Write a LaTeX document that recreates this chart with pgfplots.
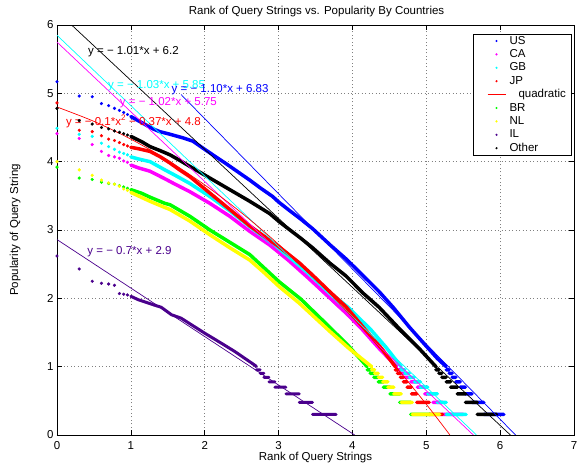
\documentclass[border=0pt]{standalone}
\usepackage{pgfplots}
\pgfplotsset{compat=1.18}
\usepackage{fontspec}
\setmainfont{Liberation Sans}
\definecolor{mblue}{rgb}{0,0,1}
\definecolor{mmag}{rgb}{1,0,1}
\definecolor{mcyan}{rgb}{0,1,1}
\definecolor{mred}{rgb}{1,0,0}
\definecolor{mgreen}{rgb}{0,1,0}
\definecolor{myellow}{rgb}{1,1,0}
\definecolor{mpurple}{rgb}{0.29,0,0.55}
\newcommand{\fs}{\fontsize{11.5bp}{13bp}\selectfont}
\pgfplotsset{
 head/.style={only marks, mark=*, mark size=1.4bp, mark options={solid}, forget plot},
 body/.style={no marks, line width=3.5bp, line cap=round, line join=round, unbounded coords=jump, forget plot},
 fit/.style={no marks, line width=0.7bp, forget plot},
 leglineimg/.style={legend image code/.code={\path[draw=none,fill=none] (-12bp,0) rectangle (19bp,0.1bp);
   \draw[##1] (-1bp,0bp) -- (17bp,0bp);}},
 legdotimg/.style={legend image code/.code={\path[draw=none,fill=none] (-12bp,0) rectangle (19bp,0.1bp);
   \fill[##1, draw=none] (8bp,0bp) circle (1.2bp);}},
}
\begin{document}
\begin{tikzpicture}
\useasboundingbox (-57bp,-30bp) rectangle (520bp,435bp);
\begin{axis}[at={(0,0)}, anchor=south west, scale only axis, width=517bp, height=410bp,
 xmin=0, xmax=7, ymin=0, ymax=6,
 xtick={0,1,2,3,4,5,6,7}, ytick={0,1,2,3,4,5,6},
 tick label style={font=\fs}, /pgf/number format/assume math mode=true,
 xticklabel style={yshift=-3bp},
 tick align=inside, major tick length=5bp, tick style={black, line width=0.6bp},
 axis line style={line width=0.8bp},
 grid=major, grid style={dash pattern=on 1bp off 2.5bp, black!50, line width=0.6bp},
 title={Rank of Query Strings vs. Popularity By Countries},
 title style={font=\fs, at={(0.502,1.018)}, anchor=center},
 xlabel={Rank of Query Strings}, xlabel style={font=\fs, at={(0.5,-0.055)}, anchor=center},
 ylabel={Popularity of Query String}, ylabel style={font=\fs, at={(-0.081,0.5)}, anchor=center, rotate=0},
 legend style={at={(0.9942,0.979)}, anchor=north east, draw=black, fill=white, font=\fs,
   inner ysep=0.5bp, nodes={inner ysep=1.2bp, text height=8.5bp, text depth=2.5bp}},
 legend cell align=left,
]
% US
\addplot[head, mblue] coordinates {(0,5.17)(0.301,4.96)(0.477,4.95)(0.602,4.85)(0.699,4.82)(0.778,4.78)(0.845,4.75)(0.903,4.72)(0.954,4.69)};
\addplot[body, mblue] coordinates {(1.0,4.66)(1.1,4.60)(1.2,4.54)(1.3,4.48)(1.39,4.44)(1.5,4.41)(1.6,4.38)(1.7,4.35)(1.84,4.30)(2.0,4.18)(2.11,4.10)(2.29,3.97)(2.45,3.85)(2.61,3.73)(2.76,3.61)(2.92,3.49)(3.0,3.41)(3.13,3.30)(3.3,3.16)(3.46,3.02)(3.71,2.77)(3.91,2.58)(4.1,2.38)(4.36,2.10)(4.55,1.87)(4.77,1.58)(5.0,1.30)(5.15,1.12)(5.27,1.0)(5.27,nan)
(5.27,0.954)(5.31,0.954)(5.31,nan)(5.31,0.903)(5.35,0.903)(5.35,nan)(5.35,0.845)(5.40,0.845)(5.40,nan)(5.40,0.778)(5.46,0.778)(5.46,nan)(5.46,0.699)(5.53,0.699)(5.53,nan)(5.53,0.602)(5.62,0.602)(5.62,nan)(5.62,0.477)(5.78,0.477)(5.78,nan)(5.78,0.301)(6.05,0.301)};
% CA
\addplot[head, mmag] coordinates {(0,4.41)(0.301,4.34)(0.477,4.25)(0.602,4.15)(0.699,4.09)(0.778,4.07)(0.845,4.05)(0.903,4.01)(0.954,3.99)};
\addplot[body, mmag] coordinates {(1.0,3.95)(1.1,3.91)(1.26,3.86)(1.46,3.75)(1.6,3.67)(1.80,3.56)(2.07,3.39)(2.34,3.20)(2.61,2.98)(2.88,2.78)(3.13,2.56)(3.4,2.30)(3.7,2.0)(3.9,1.80)(4.12,1.56)(4.35,1.28)(4.60,1.0)(4.60,nan)
(4.60,0.954)(4.65,0.954)(4.65,nan)(4.65,0.903)(4.71,0.903)(4.71,nan)(4.71,0.845)(4.79,0.845)(4.79,nan)(4.79,0.778)(4.88,0.778)(4.88,nan)(4.88,0.699)(4.98,0.699)(4.98,nan)(4.98,0.602)(5.09,0.602)(5.09,nan)(5.09,0.477)(5.22,0.477)(5.22,nan)(5.22,0.301)(5.50,0.301)};
% GB
\addplot[head, mcyan] coordinates {(0,4.49)(0.301,4.40)(0.477,4.37)(0.602,4.27)(0.699,4.22)(0.778,4.18)(0.845,4.14)(0.903,4.12)(0.954,4.10)};
\addplot[body, mcyan] coordinates {(1.0,4.07)(1.1,4.04)(1.26,4.00)(1.46,3.88)(1.6,3.80)(1.80,3.68)(2.07,3.49)(2.34,3.28)(2.61,3.05)(2.88,2.83)(3.13,2.62)(3.4,2.37)(3.7,2.08)(3.95,1.86)(4.25,1.54)(4.45,1.29)(4.66,1.0)(4.66,nan)
(4.66,0.954)(4.71,0.954)(4.71,nan)(4.71,0.903)(4.77,0.903)(4.77,nan)(4.77,0.845)(4.84,0.845)(4.84,nan)(4.84,0.778)(4.92,0.778)(4.92,nan)(4.92,0.699)(5.02,0.699)(5.02,nan)(5.02,0.602)(5.15,0.602)(5.15,nan)(5.15,0.477)(5.27,0.477)(5.27,nan)(5.27,0.301)(5.54,0.301)};
% JP
\addplot[head, mred] coordinates {(0,4.86)(0.301,4.46)(0.477,4.44)(0.602,4.38)(0.699,4.33)(0.778,4.31)(0.845,4.28)(0.903,4.25)(0.954,4.23)};
\addplot[body, mred] coordinates {(1.0,4.21)(1.1,4.19)(1.26,4.15)(1.4,4.07)(1.53,3.98)(1.66,3.88)(1.80,3.78)(2.07,3.54)(2.34,3.30)(2.61,3.06)(2.88,2.85)(3.0,2.76)(3.28,2.52)(3.46,2.34)(3.7,2.09)(3.91,1.88)(4.16,1.56)(4.4,1.26)(4.58,1.0)(4.58,nan)
(4.58,0.954)(4.61,0.954)(4.61,nan)(4.61,0.903)(4.65,0.903)(4.65,nan)(4.65,0.845)(4.69,0.845)(4.69,nan)(4.69,0.778)(4.74,0.778)(4.74,nan)(4.74,0.699)(4.80,0.699)(4.80,nan)(4.80,0.602)(4.87,0.602)(4.87,nan)(4.87,0.477)(5.04,0.477)(5.04,nan)(5.04,0.301)(5.22,0.301)};
% BR
\addplot[head, mgreen] coordinates {(0,3.92)(0.301,3.76)(0.477,3.74)(0.602,3.70)(0.699,3.68)(0.778,3.67)(0.845,3.65)(0.903,3.63)(0.954,3.61)};
\addplot[body, mgreen] coordinates {(1.0,3.59)(1.14,3.54)(1.26,3.48)(1.46,3.39)(1.53,3.37)(1.80,3.20)(2.07,3.00)(2.34,2.82)(2.61,2.64)(2.79,2.46)(3.01,2.24)(3.3,1.99)(3.69,1.58)(3.95,1.30)(4.20,1.0)(4.20,nan)
(4.20,0.954)(4.24,0.954)(4.24,nan)(4.24,0.903)(4.29,0.903)(4.29,nan)(4.29,0.845)(4.35,0.845)(4.35,nan)(4.35,0.778)(4.42,0.778)(4.42,nan)(4.42,0.699)(4.51,0.699)(4.51,nan)(4.51,0.602)(4.64,0.602)(4.64,nan)(4.64,0.477)(4.79,0.477)(4.79,nan)(4.79,0.301)(5.05,0.301)};
% NL
\addplot[head, myellow] coordinates {(0,4.00)(0.301,3.88)(0.477,3.80)(0.602,3.73)(0.699,3.69)(0.778,3.67)(0.845,3.64)(0.903,3.60)(0.954,3.58)};
\addplot[body, myellow] coordinates {(1.0,3.55)(1.14,3.48)(1.26,3.42)(1.46,3.33)(1.53,3.30)(1.80,3.13)(2.07,2.93)(2.34,2.74)(2.61,2.56)(2.79,2.39)(3.01,2.17)(3.28,1.93)(3.69,1.52)(3.95,1.27)(4.26,1.0)(4.26,nan)
(4.26,0.954)(4.30,0.954)(4.30,nan)(4.30,0.903)(4.35,0.903)(4.35,nan)(4.35,0.845)(4.41,0.845)(4.41,nan)(4.41,0.778)(4.48,0.778)(4.48,nan)(4.48,0.699)(4.56,0.699)(4.56,nan)(4.56,0.602)(4.66,0.602)(4.66,nan)(4.66,0.477)(4.81,0.477)(4.81,nan)(4.81,0.301)(5.18,0.301)};
% IL
\addplot[head, mpurple] coordinates {(0,2.62)(0.301,2.43)(0.477,2.25)(0.602,2.22)(0.699,2.21)(0.778,2.19)(0.845,2.07)(0.903,2.06)(0.954,2.05)};
\addplot[body, mpurple, line width=3bp] coordinates {(1.0,2.03)(1.10,1.98)(1.32,1.90)(1.41,1.87)(1.55,1.76)(1.68,1.71)(2.0,1.49)(2.23,1.34)(2.41,1.22)(2.68,1.02)(2.70,1.0)(2.70,nan)
(2.70,0.954)(2.75,0.954)(2.75,nan)(2.75,0.903)(2.80,0.903)(2.80,nan)(2.80,0.845)(2.87,0.845)(2.87,nan)(2.87,0.778)(2.95,0.778)(2.95,nan)(2.95,0.699)(3.10,0.699)(3.10,nan)(3.10,0.602)(3.28,0.602)(3.28,nan)(3.28,0.477)(3.46,0.477)(3.46,nan)(3.46,0.301)(3.78,0.301)};
% Other
\addplot[head, black] coordinates {(0,4.78)(0.301,4.60)(0.477,4.55)(0.602,4.50)(0.699,4.48)(0.778,4.45)(0.845,4.43)(0.903,4.41)(0.954,4.39)};
\addplot[body, black] coordinates {(1.0,4.37)(1.15,4.29)(1.26,4.22)(1.4,4.16)(1.53,4.10)(1.66,4.02)(1.80,3.93)(2.07,3.76)(2.34,3.59)(2.61,3.42)(2.88,3.24)(3.01,3.12)(3.13,3.02)(3.3,2.88)(3.46,2.74)(3.7,2.51)(3.91,2.33)(4.15,2.07)(4.36,1.87)(4.64,1.55)(4.9,1.27)(5.13,1.0)(5.13,nan)
(5.13,0.954)(5.17,0.954)(5.17,nan)(5.17,0.903)(5.21,0.903)(5.21,nan)(5.21,0.845)(5.27,0.845)(5.27,nan)(5.27,0.778)(5.33,0.778)(5.33,nan)(5.33,0.699)(5.42,0.699)(5.42,nan)(5.42,0.602)(5.53,0.602)(5.53,nan)(5.53,0.477)(5.69,0.477)(5.69,nan)(5.69,0.301)(5.95,0.301)};
% fits
\addplot[fit, mblue] coordinates {(1.68,4.982)(6.209,0)};
\addplot[fit, black] coordinates {(0,6.2)(6.139,0)};
\addplot[fit, mcyan] coordinates {(0,5.85)(5.680,0)};
\addplot[fit, mmag] coordinates {(0,5.75)(5.637,0)};
\addplot[fit, mred, smooth] coordinates {(0,4.8)(0.5,4.59)(1.0,4.33)(1.5,4.02)(2.0,3.66)(2.5,3.25)(3.0,2.79)(3.5,2.28)(4.0,1.72)(4.5,1.11)(5.0,0.45)(5.32,0.0)};
\addplot[fit, mpurple] coordinates {(0,2.86)(4.03,0)};
% annotations
\node[anchor=west, inner sep=0, font=\fs, text=black] at (axis cs:0.42,5.61) {y = − 1.01*x + 6.2};
\node[anchor=west, inner sep=0, font=\fs, text=mcyan] at (axis cs:0.69,5.11) {y = − 1.03*x + 5.85};
\node[anchor=west, inner sep=0, font=\fs, text=mblue] at (axis cs:1.55,5.05) {y = − 1.10*x + 6.83};
\node[anchor=west, inner sep=0, font=\fs, text=mmag] at (axis cs:0.85,4.87) {y = − 1.02*x + 5.75};
\node[anchor=west, inner sep=0, font=\fs, text=mred] at (axis cs:0.12,4.59) {y = − 0.1*x\textsuperscript{2} − 0.37*x + 4.8};
\node[anchor=west, inner sep=0, font=\fs, text=mpurple] at (axis cs:0.41,2.68) {y = − 0.7*x + 2.9};
% legend
\addlegendimage{legdotimg, mblue}\addlegendentry{US}
\addlegendimage{legdotimg, mmag}\addlegendentry{CA}
\addlegendimage{legdotimg, mcyan}\addlegendentry{GB}
\addlegendimage{legdotimg, mred}\addlegendentry{JP}
\addlegendimage{leglineimg, mred, line width=0.7bp}\addlegendentry{\hspace{9bp}quadratic\hspace{4bp}}
\addlegendimage{legdotimg, mgreen}\addlegendentry{BR}
\addlegendimage{legdotimg, myellow}\addlegendentry{NL}
\addlegendimage{legdotimg, mpurple}\addlegendentry{IL}
\addlegendimage{legdotimg, black}\addlegendentry{Other}
\end{axis}
\end{tikzpicture}
\end{document}
